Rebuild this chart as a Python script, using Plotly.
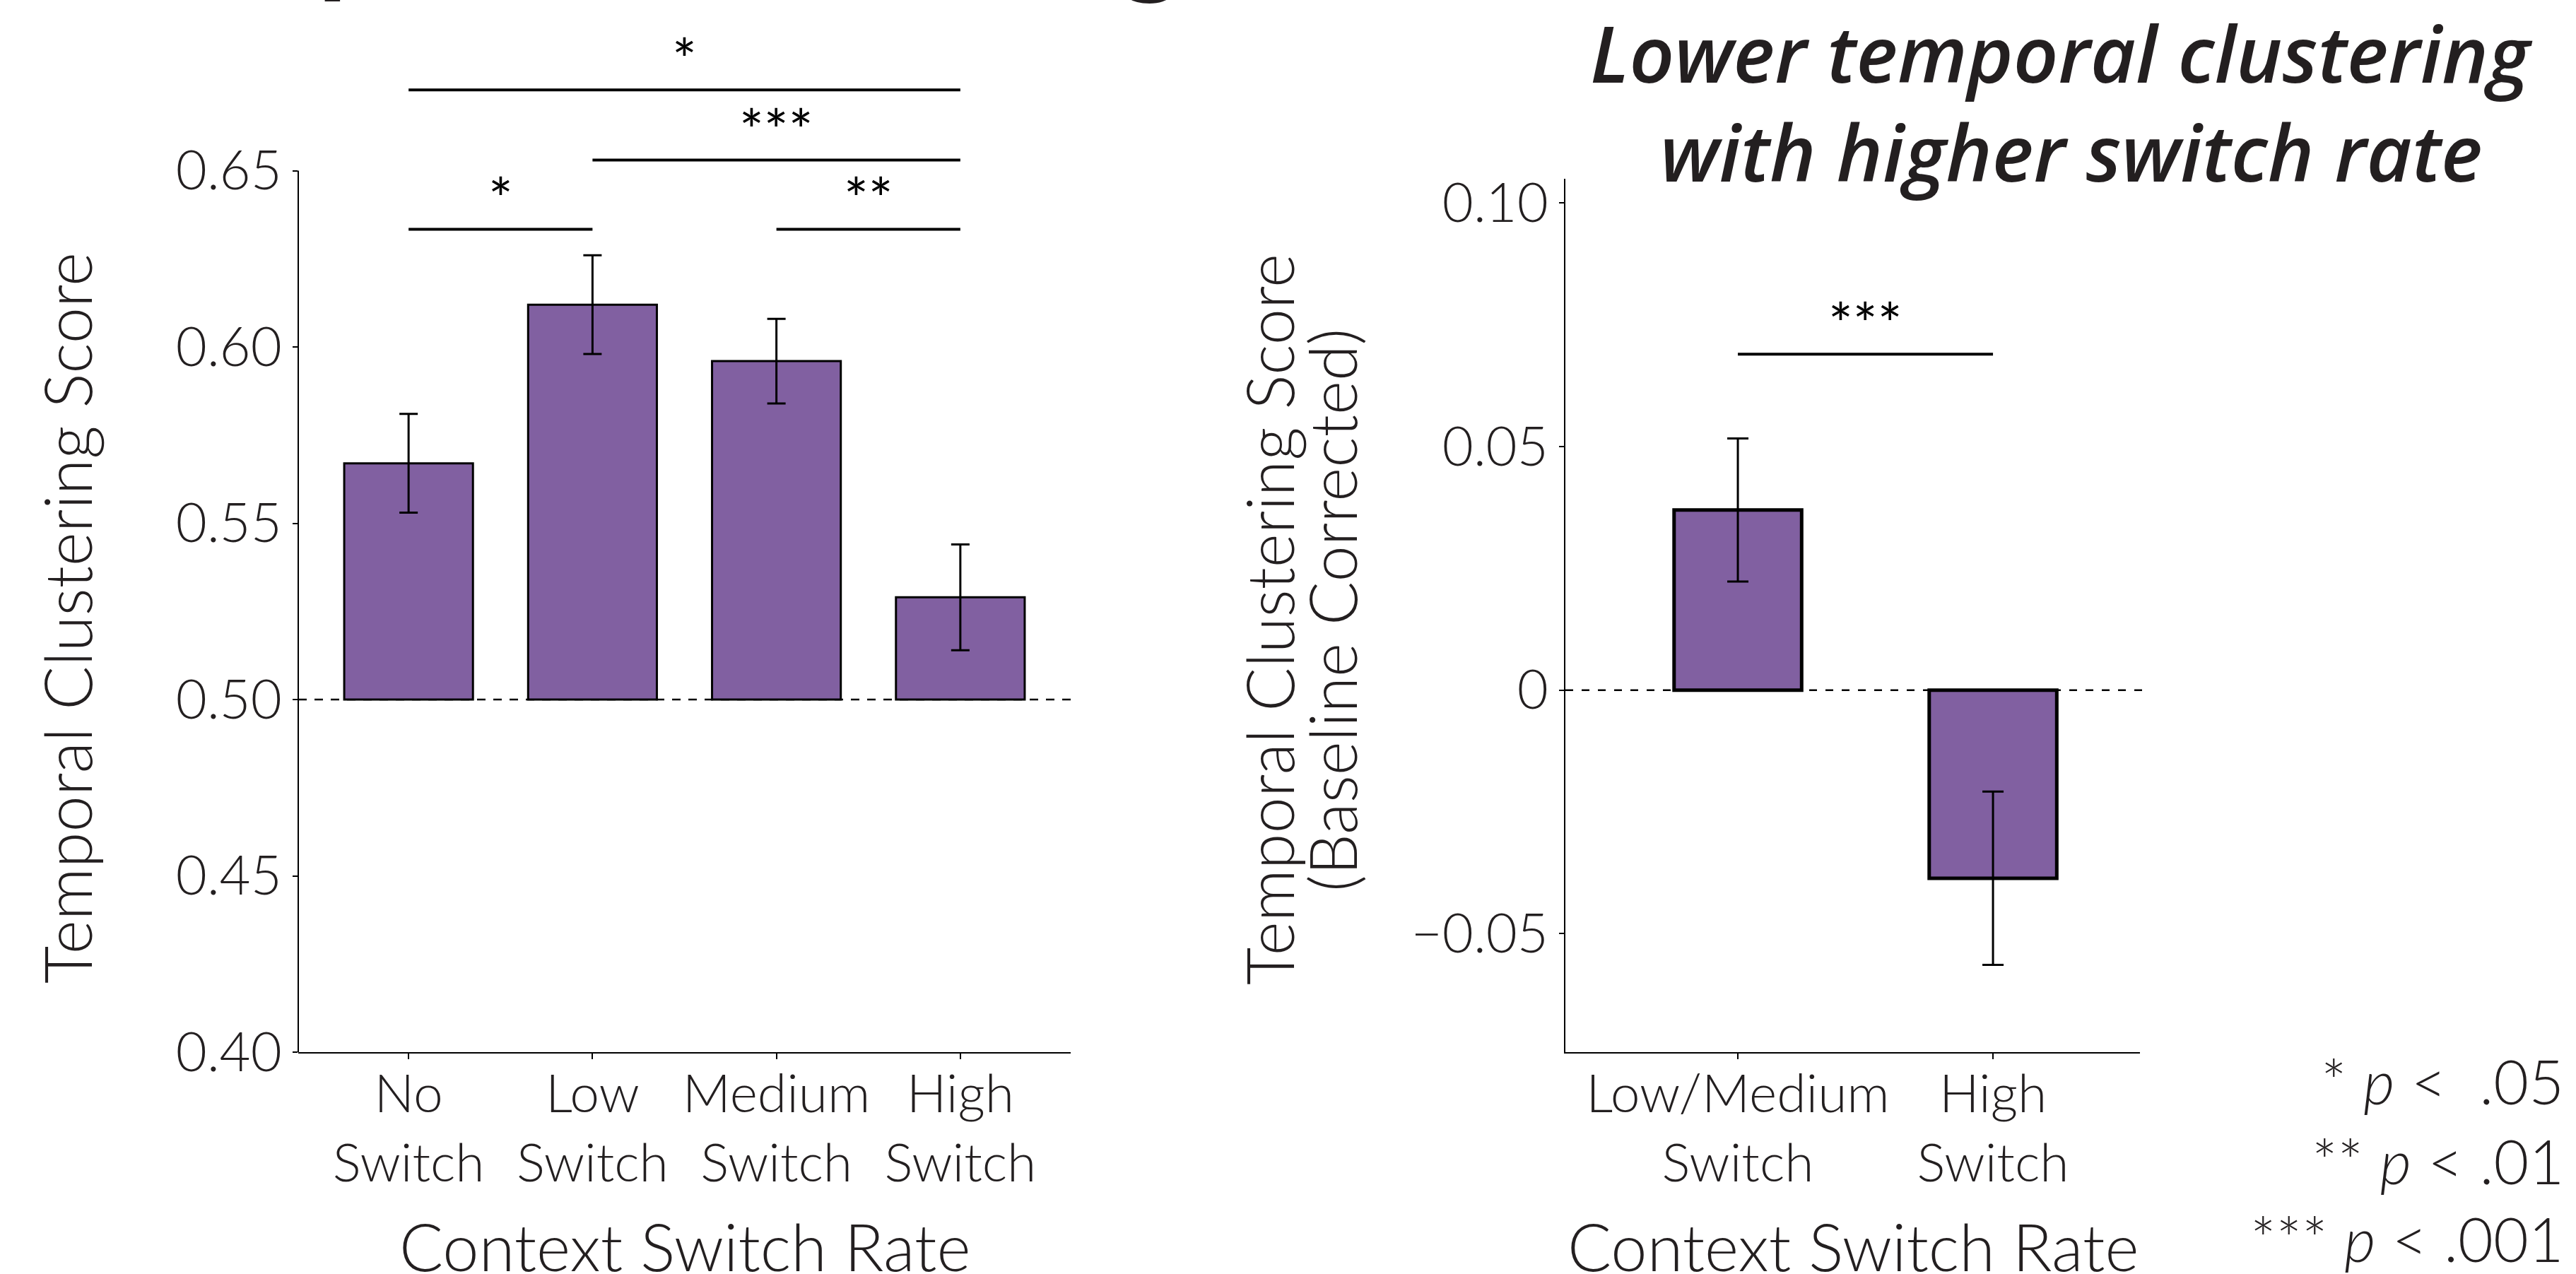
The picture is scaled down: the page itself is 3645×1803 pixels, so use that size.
import plotly.graph_objects as go

# ---------------- data ----------------
left_categories = ["No<br>Switch", "Low<br>Switch", "Medium<br>Switch", "High<br>Switch"]
left_means = [0.567, 0.612, 0.596, 0.529]
left_sem = [0.014, 0.014, 0.012, 0.015]
left_baseline = 0.50
left_ticks = [0.40, 0.45, 0.50, 0.55, 0.60, 0.65]

right_categories = ["Low/Medium<br>Switch", "High<br>Switch"]
right_means = [0.037, -0.0386]
right_sem = [0.0147, 0.0178]
right_ticks = [-0.05, 0.0, 0.05, 0.10]
right_ticktext = ["\u22120.05", "0", "0.05", "0.10"]

# significance brackets: (from index, to index, height, label)
left_brackets = [(0, 3, 0.6729, "*"), (1, 3, 0.6530, "***"), (0, 1, 0.6334, "*"), (2, 3, 0.6334, "**")]
right_brackets = [(0, 1, 0.0690, "***")]

legend_lines = ["* <i>p</i> <\u00a0\u00a0.05", "** <i>p</i> < .01", "*** <i>p</i> < .001"]

# ---------------- style ----------------
W, H = 3645, 1803
BAR = "#8160A1"
TXT = "#231f20"
FONT = "Lato"

fig = go.Figure()

fig.add_trace(go.Bar(
    x=left_categories, y=[m - left_baseline for m in left_means], base=left_baseline,
    width=0.70, marker=dict(color=BAR, line=dict(color="black", width=3)),
    error_y=dict(type="data", array=left_sem, color="black", thickness=3, width=13),
    xaxis="x", yaxis="y", showlegend=False, hoverinfo="skip"))

fig.add_trace(go.Bar(
    x=right_categories, y=right_means,
    width=0.50, marker=dict(color=BAR, line=dict(color="black", width=5)),
    error_y=dict(type="data", array=right_sem, color="black", thickness=3, width=15),
    xaxis="x2", yaxis="y2", showlegend=False, hoverinfo="skip"))

def px2fx(p):
    return p / W

def px2fy(p):
    return (H - p) / H

tickfont = dict(family=FONT, size=76, color=TXT, weight=300)
xtickfont = dict(family=FONT, size=75, color=TXT, weight=300)

common = dict(showgrid=False, zeroline=False, automargin=False, tickcolor="black", tickwidth=2)

fig.update_layout(
    width=W, height=H, margin=dict(l=0, r=0, t=0, b=0, autoexpand=False),
    paper_bgcolor="white", plot_bgcolor="white",
    bargap=0.3,
    xaxis=dict(domain=[px2fx(422), px2fx(1515)], range=[-0.6, 3.6], anchor="y",
               showline=True, linecolor="black", linewidth=2,
               ticks="outside", ticklen=8, tickfont=xtickfont, ticklabelstandoff=-15,
               type="category", **common),
    yaxis=dict(domain=[px2fy(1489), px2fy(42)], range=[0.40, 0.69], anchor="x",
               showline=False, ticks="outside", ticklen=7,
               tickvals=left_ticks, tickformat=".2f", tickfont=tickfont, **common),
    xaxis2=dict(domain=[px2fx(2215), px2fx(3028)], range=[-0.676, 1.576], anchor="y2",
                showline=True, linecolor="black", linewidth=2,
                ticks="outside", ticklen=8, tickfont=xtickfont, ticklabelstandoff=-15,
                type="category", **common),
    yaxis2=dict(domain=[px2fy(1489), px2fy(253)], range=[-0.0743, 0.105], anchor="x2",
                showline=True, linecolor="black", linewidth=2, ticks="outside", ticklen=7,
                tickvals=right_ticks, ticktext=right_ticktext, tickfont=tickfont, **common),
)

shapes = []
# left y axis line (only up to 0.65)
shapes.append(dict(type="line", xref="x domain", x0=0, x1=0, yref="y",
                   y0=left_ticks[0], y1=left_ticks[-1], line=dict(color="black", width=2)))
# baseline dashed lines
shapes.append(dict(type="line", xref="x domain", x0=0, x1=1, yref="y", y0=left_baseline, y1=left_baseline,
                   line=dict(color="black", width=2.5, dash="12px,11px"), layer="below"))
shapes.append(dict(type="line", xref="x2 domain", x0=0, x1=1.01, yref="y2", y0=0, y1=0,
                   line=dict(color="black", width=2.5, dash="11px,12px"), layer="below"))

star_font = dict(family=FONT, size=82, color="black")
annotations = []
for i0, i1, h, lab in left_brackets:
    shapes.append(dict(type="line", xref="x", yref="y", x0=i0, x1=i1, y0=h, y1=h,
                       line=dict(color="black", width=4)))
    annotations.append(dict(xref="x", yref="y", x=(i0 + i1) / 2, y=h, text=lab, showarrow=False,
                            xanchor="center", yanchor="bottom", yshift=-6, font=star_font))
for i0, i1, h, lab in right_brackets:
    shapes.append(dict(type="line", xref="x2", yref="y2", x0=i0, x1=i1, y0=h, y1=h,
                       line=dict(color="black", width=4)))
    annotations.append(dict(xref="x2", yref="y2", x=(i0 + i1) / 2, y=h, text=lab, showarrow=False,
                            xanchor="center", yanchor="bottom", yshift=-6, font=star_font))

axis_title_font = dict(family=FONT, size=92, color=TXT, weight=300)

# axis titles
annotations.append(dict(xref="paper", yref="paper", x=px2fx(94), y=px2fy(875),
                        text="Temporal Clustering Score", textangle=-90, showarrow=False,
                        xanchor="center", yanchor="middle", font=axis_title_font))
annotations.append(dict(xref="paper", yref="paper", x=px2fx(1795), y=px2fy(877),
                        text="Temporal Clustering Score", textangle=-90, showarrow=False,
                        xanchor="center", yanchor="middle", font=axis_title_font))
annotations.append(dict(xref="paper", yref="paper", x=px2fx(1884), y=px2fy(863),
                        text="(Baseline Corrected)", textangle=-90, showarrow=False,
                        xanchor="center", yanchor="middle", font=axis_title_font))
annotations.append(dict(xref="x domain", yref="paper", x=0.5, y=px2fy(1763),
                        text="Context Switch Rate", showarrow=False,
                        xanchor="center", yanchor="middle", font=axis_title_font))
annotations.append(dict(xref="x2 domain", yref="paper", x=0.5, y=px2fy(1763),
                        text="Context Switch Rate", showarrow=False,
                        xanchor="center", yanchor="middle", font=axis_title_font))

# panel title
title_font = dict(family="Open Sans", size=111, color=TXT, weight=600, style="italic")
annotations.append(dict(xref="paper", yref="paper", x=px2fx(2917), y=px2fy(74),
                        text="Lower temporal clustering", showarrow=False,
                        xanchor="center", yanchor="middle", font=title_font))
annotations.append(dict(xref="paper", yref="paper", x=px2fx(2931), y=px2fy(214),
                        text="with higher switch rate", showarrow=False,
                        xanchor="center", yanchor="middle", font=title_font))

# clipped heading at top-left (only descenders visible)
annotations.append(dict(xref="paper", yref="paper", x=px2fx(125), y=px2fy(12),
                        text="Temporal Clustering", showarrow=False,
                        xanchor="left", yanchor="bottom",
                        font=dict(family=FONT, size=174, color=TXT, weight=700)))

# significance legend
for txt, yc in zip(legend_lines, [1529, 1642, 1752]):
    annotations.append(dict(xref="paper", yref="paper", x=px2fx(3630), y=px2fy(yc),
                            text=txt, showarrow=False, xanchor="right", yanchor="middle",
                            align="right", font=dict(family=FONT, size=86, color=TXT, weight=300)))

fig.update_layout(shapes=shapes, annotations=annotations)
fig.write_html("out.html")
